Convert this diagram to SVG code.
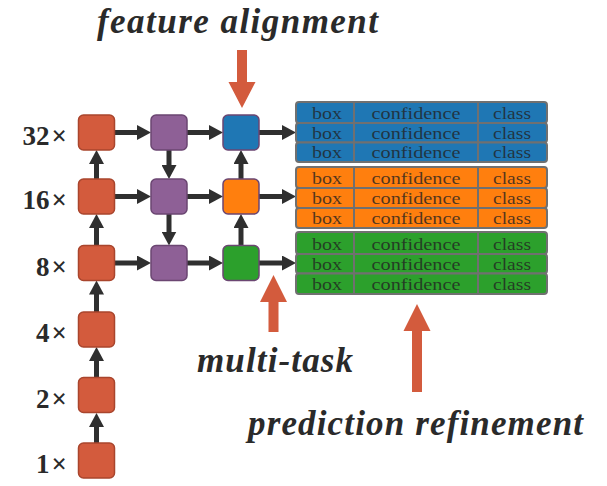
<svg xmlns="http://www.w3.org/2000/svg" width="607" height="486" viewBox="0 0 607 486">
<style>
.node{stroke-width:1.5}
.red{fill:#d35b3d;stroke:#a9452d}
.pur{fill:#8e6096;stroke:#6b4672}
.blu{fill:#1f77b4;stroke:#6b4672}
.org{fill:#ff7f0e;stroke:#6b4672}
.grn{fill:#2ca02c;stroke:#6b4672}
.conn line{stroke:#2f2f2f;stroke-width:5;marker-end:url(#ah)}
.lbl{font-family:"Liberation Serif",serif;font-weight:bold;font-size:27px;fill:#2a2a2a;text-anchor:end}
.title{font-family:"Liberation Serif",serif;font-weight:bold;font-style:italic;font-size:35px;fill:#2a2a2a}
.row{stroke:#707070;stroke-width:2}
.sep{stroke:#707070;stroke-width:2}
.cell{font-family:"Liberation Serif",serif;font-size:17.5px;fill:#222;fill-opacity:0.78;text-anchor:middle}
.rarrow{fill:#d35b3d}
</style>
<defs>
<marker id="ah" viewBox="0 0 14 15" refX="4" refY="7.5" markerWidth="14" markerHeight="15" markerUnits="userSpaceOnUse" orient="auto">
<path d="M0,0 L14,7.5 L0,15 z" fill="#2f2f2f"/>
</marker>
</defs>
<rect width="607" height="486" fill="#ffffff"/>

<g id="labels">
<text class="lbl" x="67" y="145">32<tspan dx="2">×</tspan></text>
<text class="lbl" x="67" y="209">16<tspan dx="2">×</tspan></text>
<text class="lbl" x="67" y="275.5">8<tspan dx="2">×</tspan></text>
<text class="lbl" x="67" y="342">4<tspan dx="2">×</tspan></text>
<text class="lbl" x="67" y="407.5">2<tspan dx="2">×</tspan></text>
<text class="lbl" x="67" y="473">1<tspan dx="2">×</tspan></text>
</g>

<g id="connectors" class="conn">
<line x1="115" y1="132.5" x2="141" y2="132.5"/>
<line x1="115" y1="196.5" x2="141" y2="196.5"/>
<line x1="115" y1="263" x2="141" y2="263"/>
<line x1="187" y1="132.5" x2="213" y2="132.5"/>
<line x1="187" y1="196.5" x2="213" y2="196.5"/>
<line x1="187" y1="263" x2="213" y2="263"/>
<line x1="259" y1="132.5" x2="286" y2="132.5"/>
<line x1="259" y1="196.5" x2="286" y2="196.5"/>
<line x1="259" y1="263" x2="286" y2="263"/>
<line x1="96.5" y1="443" x2="96.5" y2="423"/>
<line x1="96.5" y1="377.5" x2="96.5" y2="357"/>
<line x1="96.5" y1="312" x2="96.5" y2="290.5"/>
<line x1="96.5" y1="245.5" x2="96.5" y2="224"/>
<line x1="96.5" y1="179" x2="96.5" y2="160"/>
<line x1="169" y1="150" x2="169" y2="169"/>
<line x1="169" y1="214" x2="169" y2="235.5"/>
<line x1="241" y1="245.5" x2="241" y2="224"/>
<line x1="241" y1="179" x2="241" y2="160"/>
</g>

<g id="n-r1" class="node red"><rect x="78.5" y="115" width="36" height="35" rx="5"/></g>
<g id="n-r2" class="node red"><rect x="78.5" y="179" width="36" height="35" rx="5"/></g>
<g id="n-r3" class="node red"><rect x="78.5" y="245.5" width="36" height="35" rx="5"/></g>
<g id="n-r4" class="node red"><rect x="78.5" y="312" width="36" height="35" rx="5"/></g>
<g id="n-r5" class="node red"><rect x="78.5" y="377.5" width="36" height="35" rx="5"/></g>
<g id="n-r6" class="node red"><rect x="78.5" y="443" width="36" height="35" rx="5"/></g>

<g id="n-p1" class="node pur"><rect x="151" y="115" width="36" height="35" rx="5"/></g>
<g id="n-p2" class="node pur"><rect x="151" y="179" width="36" height="35" rx="5"/></g>
<g id="n-p3" class="node pur"><rect x="151" y="245.5" width="36" height="35" rx="5"/></g>

<g id="n-blue" class="node blu"><rect x="223" y="115" width="36" height="35" rx="5"/></g>
<g id="n-orange" class="node org"><rect x="223" y="179" width="36" height="35" rx="5"/></g>
<g id="n-green" class="node grn"><rect x="223" y="245.5" width="36" height="35" rx="5"/></g>

<g id="panel-blue">
<rect class="row" x="296" y="102" width="251" height="21" rx="3" fill="#1f77b4"/>
<rect class="row" x="296" y="123" width="251" height="19.5" rx="3" fill="#1f77b4"/>
<rect class="row" x="296" y="142.5" width="251" height="19.5" rx="3" fill="#1f77b4"/>
<line class="sep" x1="354" y1="102" x2="354" y2="162"/>
<line class="sep" x1="478" y1="102" x2="478" y2="162"/>
<text class="cell" x="327" y="119" textLength="30" lengthAdjust="spacingAndGlyphs">box</text><text class="cell" x="416" y="119" textLength="89" lengthAdjust="spacingAndGlyphs">confidence</text><text class="cell" x="512" y="119" textLength="38" lengthAdjust="spacingAndGlyphs">class</text>
<text class="cell" x="327" y="138.5" textLength="30" lengthAdjust="spacingAndGlyphs">box</text><text class="cell" x="416" y="138.5" textLength="89" lengthAdjust="spacingAndGlyphs">confidence</text><text class="cell" x="512" y="138.5" textLength="38" lengthAdjust="spacingAndGlyphs">class</text>
<text class="cell" x="327" y="158" textLength="30" lengthAdjust="spacingAndGlyphs">box</text><text class="cell" x="416" y="158" textLength="89" lengthAdjust="spacingAndGlyphs">confidence</text><text class="cell" x="512" y="158" textLength="38" lengthAdjust="spacingAndGlyphs">class</text>
</g>

<g id="panel-orange">
<rect class="row" x="296" y="167" width="251" height="21" rx="3" fill="#ff7f0e"/>
<rect class="row" x="296" y="188" width="251" height="20" rx="3" fill="#ff7f0e"/>
<rect class="row" x="296" y="208" width="251" height="20" rx="3" fill="#ff7f0e"/>
<line class="sep" x1="354" y1="167" x2="354" y2="228"/>
<line class="sep" x1="478" y1="167" x2="478" y2="228"/>
<text class="cell" x="327" y="184" textLength="30" lengthAdjust="spacingAndGlyphs">box</text><text class="cell" x="416" y="184" textLength="89" lengthAdjust="spacingAndGlyphs">confidence</text><text class="cell" x="512" y="184" textLength="38" lengthAdjust="spacingAndGlyphs">class</text>
<text class="cell" x="327" y="204" textLength="30" lengthAdjust="spacingAndGlyphs">box</text><text class="cell" x="416" y="204" textLength="89" lengthAdjust="spacingAndGlyphs">confidence</text><text class="cell" x="512" y="204" textLength="38" lengthAdjust="spacingAndGlyphs">class</text>
<text class="cell" x="327" y="224" textLength="30" lengthAdjust="spacingAndGlyphs">box</text><text class="cell" x="416" y="224" textLength="89" lengthAdjust="spacingAndGlyphs">confidence</text><text class="cell" x="512" y="224" textLength="38" lengthAdjust="spacingAndGlyphs">class</text>
</g>

<g id="panel-green">
<rect class="row" x="296" y="232" width="251" height="22" rx="3" fill="#2ca02c"/>
<rect class="row" x="296" y="254" width="251" height="19.5" rx="3" fill="#2ca02c"/>
<rect class="row" x="296" y="273.5" width="251" height="20.5" rx="3" fill="#2ca02c"/>
<line class="sep" x1="354" y1="232" x2="354" y2="294"/>
<line class="sep" x1="478" y1="232" x2="478" y2="294"/>
<text class="cell" x="327" y="250" textLength="30" lengthAdjust="spacingAndGlyphs">box</text><text class="cell" x="416" y="250" textLength="89" lengthAdjust="spacingAndGlyphs">confidence</text><text class="cell" x="512" y="250" textLength="38" lengthAdjust="spacingAndGlyphs">class</text>
<text class="cell" x="327" y="269.5" textLength="30" lengthAdjust="spacingAndGlyphs">box</text><text class="cell" x="416" y="269.5" textLength="89" lengthAdjust="spacingAndGlyphs">confidence</text><text class="cell" x="512" y="269.5" textLength="38" lengthAdjust="spacingAndGlyphs">class</text>
<text class="cell" x="327" y="290" textLength="30" lengthAdjust="spacingAndGlyphs">box</text><text class="cell" x="416" y="290" textLength="89" lengthAdjust="spacingAndGlyphs">confidence</text><text class="cell" x="512" y="290" textLength="38" lengthAdjust="spacingAndGlyphs">class</text>
</g>

<g id="ann-feature">
<text class="title" x="97" y="33" textLength="281" lengthAdjust="spacing">feature alignment</text>
<polygon class="rarrow" points="237,50 247,50 247,82 255.5,82 242,108 228.5,82 237,82"/>
</g>

<g id="ann-multitask">
<polygon class="rarrow" points="268.5,332 278.5,332 278.5,302 287,302 273.5,275 260,302 268.5,302"/>
<text class="title" x="197" y="372" textLength="156" lengthAdjust="spacing">multi-task</text>
</g>

<g id="ann-refine">
<polygon class="rarrow" points="412,392 422,392 422,331 430.5,331 417,304 403.5,331 412,331"/>
<text class="title" x="248" y="435" textLength="335" lengthAdjust="spacing">prediction refinement</text>
</g>
</svg>
